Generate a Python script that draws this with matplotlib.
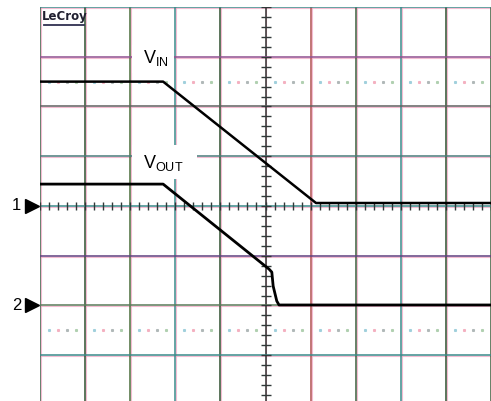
import numpy as np
import matplotlib
matplotlib.use("Agg")
import matplotlib.pyplot as plt
from matplotlib.patches import Rectangle

# scope traces, in divisions (x: 0..10 across, y: 0 at marker 1)
vin_t = [0.0, 2.73, 6.12, 10.0]
vin_v = [2.5, 2.5, 0.06, 0.06]

vout_t = [0.0, 2.73, 5.08, 5.14, 5.17, 5.25, 5.30, 10.0]
vout_v = [0.44, 0.44, -1.27, -1.33, -1.61, -1.91, -1.99, -1.99]

# channel markers on the left edge
marker_names = ["1", "2"]
marker_levels = [0.0, -2.0]

# grid line colours (slightly off, like the screen capture)
vgrid_colors = ["#3d5e46", "#2f4f2f", "#4a6e3a", "#3a8a8a", "#2f4f2f",
                "#303030", "#b05050", "#3d5e3d", "#3a8a8a", "#2f4f2f", "#3d5e3d"]
hgrid_colors = ["#3a8a8a", "#905090", "#606060", "#4a7a7a", "#3a8a8a",
                "#604080", "#5a7a5a", "#3a8a8a"]
fringe = "#f0a0c0"

fig = plt.figure(figsize=(4.91, 4.01), dpi=100)
ax = fig.add_axes([40 / 491, 0, 1 - 40 / 491, 1 - 7 / 401])
ax.set_xlim(0, 10)
ax.set_ylim(-3.92, 4)
ax.axis("off")

# graticule
for i, c in enumerate(vgrid_colors):
    ax.axvline(i + 0.022, color=fringe, lw=0.8, alpha=0.7, zorder=1)
    ax.axvline(i, color=c, lw=1.1, zorder=1.5)
for j, c in enumerate(hgrid_colors):
    y = 4 - j
    ax.axhline(y - 0.02, color=fringe, lw=0.8, alpha=0.7, zorder=1)
    ax.axhline(y, color=c, lw=1.1, zorder=1.5)

# minor ticks on the centre axes
minor = np.arange(0, 10.01, 0.2)
ax.plot(minor, np.zeros_like(minor), ls="none", marker="|", ms=6,
        mew=1.0, color="#303838", zorder=2)
minor_y = np.arange(-4, 4.01, 0.2)
ax.plot(np.full_like(minor_y, 5.0), minor_y, ls="none", marker="_", ms=7,
        mew=1.0, color="#303838", zorder=2)

# dotted reference rows
dots = np.concatenate([np.arange(k + 0.2, k + 0.85, 0.2) for k in range(10)])
dot_cols = ["#a0d0dc", "#f4b0c0", "#b0b8b8", "#b0d0b0"]
for level in (2.5, -2.5):
    for n, c in enumerate(dot_cols):
        ax.plot(dots[n::4], np.full(len(dots[n::4]), level), ls="none",
                marker="s", ms=1.2, color=c, zorder=2)

# traces
ax.plot(vin_t, vin_v, color="black", lw=1.8, zorder=4, solid_joinstyle="round")
ax.plot(vout_t, vout_v, color="black", lw=2.0, zorder=4, solid_joinstyle="round")

# trace labels on white patches (left grid line stays visible)
ax.add_patch(Rectangle((2.05, 2.67), 0.92, 0.57, facecolor="white",
                       edgecolor="none", zorder=1.8))
ax.add_patch(Rectangle((2.05, 0.55), 1.43, 0.68, facecolor="white",
                       edgecolor="none", zorder=1.8))
ax.text(2.28, 2.88, r"$\mathregular{V_{IN}}$", fontsize=13, ha="left",
        va="baseline", zorder=5, family="Liberation Sans")
ax.text(2.28, 0.76, r"$\mathregular{V_{OUT}}$", fontsize=13, ha="left",
        va="baseline", zorder=5, family="Liberation Sans")

# channel markers
for name, lvl in zip(marker_names, marker_levels):
    ax.plot(-0.18, lvl, marker=">", ms=10, color="black", clip_on=False)
    ax.text(-0.52, lvl, name, fontsize=12, ha="center", va="center",
            family="Liberation Sans", clip_on=False)

# brand logo
ax.text(0.05, 3.94, "LeCroy", fontsize=8.5, fontweight="bold", ha="left",
        va="top", color="#202030", zorder=5, family="DejaVu Sans")
ax.plot([0.08, 0.98], [3.64, 3.64], color="#303050", lw=1.3, zorder=5)

fig.savefig("out.png", dpi=100)
